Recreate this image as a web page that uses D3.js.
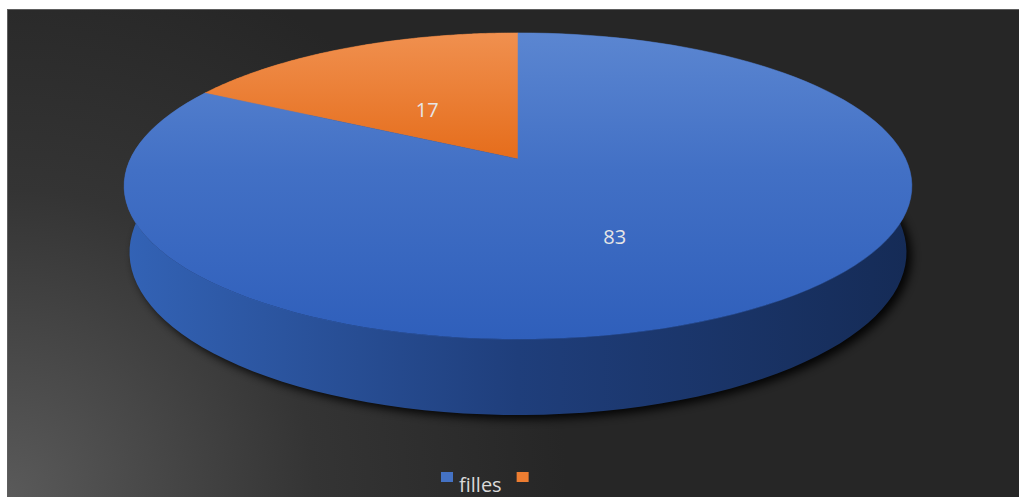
<!DOCTYPE html>
<html><head><meta charset="utf-8">
<script src="https://cdn.jsdelivr.net/npm/d3@7"></script>
<style>html,body{margin:0;padding:0;background:#fff;}svg{display:block;}</style>
</head><body>
<svg id="chart" width="1019" height="497"></svg>
<script>
const categories = ["filles", ""];
const values = [83, 17];
const labelTexts = ["83", "17"];
const sliceColors = ["#4472C4", "#ED7D31"];

const W = 1019, H = 497;
const svg = d3.select("#chart");
const defs = svg.append("defs");

// background
const bg = defs.append("radialGradient").attr("id", "bg").attr("gradientUnits", "userSpaceOnUse")
  .attr("cx", 7).attr("cy", 497).attr("r", 560);
bg.append("stop").attr("offset", 0).attr("stop-color", "#5a5a5a");
bg.append("stop").attr("offset", 0.55).attr("stop-color", "#343434");
bg.append("stop").attr("offset", 1).attr("stop-color", "#262626");
svg.append("rect").attr("x", 7.5).attr("y", 9.5).attr("width", W - 7).attr("height", H - 9)
  .attr("fill", "url(#bg)").attr("stroke", "#5e5e5e").attr("stroke-width", 1);

// 3D projection
const cx = 518, cy = 159, f = 2030, D = 5.236, th = 22.5 * Math.PI / 180, depth = 0.184;
const cT = Math.cos(th), sT = Math.sin(th);
function proj(x, y, z) {
  const yc = z * sT + y * cT;
  const zc = z * cT - y * sT + D;
  return [cx + f * x / zc, cy - f * yc / zc];
}
function rim(a, y, r = 1) { return proj(r * Math.sin(a), y, r * Math.cos(a)); }

const pie = d3.pie().sort(null).value(d => d).startAngle(0).endAngle(2 * Math.PI);
const arcs = pie(values);
const line = d3.line().curve(d3.curveLinear);
const angleSteps = (a0, a1) => d3.range(0, 121).map(i => a0 + (a1 - a0) * i / 120);

// shadow
const blur = defs.append("filter").attr("id", "blur").attr("x", "-10%").attr("y", "-10%").attr("width", "120%").attr("height", "130%");
blur.append("feGaussianBlur").attr("stdDeviation", 5);
const full = angleSteps(0, 2 * Math.PI);
const shadowPts = full.map(a => rim(a, -depth)).map(p => [p[0] + 5, p[1] + 4]);
svg.append("path").attr("d", line(shadowPts) + "Z").attr("fill", "#000").attr("opacity", 0.9).attr("filter", "url(#blur)");

// side gradients
const sideGradStops = [
  [["#3363b6", "#1f3e7b", "#152b56"]],
  [["#c9631f", "#a8521a", "#8a4314"]]
];
arcs.forEach((d, i) => {
  const g = defs.append("linearGradient").attr("id", "side" + i).attr("gradientUnits", "userSpaceOnUse")
    .attr("x1", 124).attr("y1", 0).attr("x2", 913).attr("y2", 0);
  sideGradStops[i][0].forEach((c, k) => g.append("stop").attr("offset", k / 2).attr("stop-color", c));
  const tg = defs.append("linearGradient").attr("id", "top" + i).attr("gradientUnits", "userSpaceOnUse")
    .attr("x1", 0).attr("y1", 33).attr("x2", 0).attr("y2", 339);
  if (i === 0) {
    tg.append("stop").attr("offset", 0).attr("stop-color", "#5b86d1");
    tg.append("stop").attr("offset", 0.45).attr("stop-color", "#4270c5");
    tg.append("stop").attr("offset", 1).attr("stop-color", "#2f5fbb");
  } else {
    tg.append("stop").attr("offset", 0).attr("stop-color", "#f0904f");
    tg.append("stop").attr("offset", 0.42).attr("stop-color", "#e56c1a");
    tg.append("stop").attr("offset", 1).attr("stop-color", "#d86010");
  }
});

// sides (back slice first)
const order = [1, 0];
order.forEach(i => {
  const d = arcs[i];
  const steps = angleSteps(d.startAngle, d.endAngle);
  const topPts = steps.map(a => rim(a, 0));
  const botPts = steps.slice().reverse().map(a => rim(a, -depth));
  svg.append("path").attr("d", line(topPts.concat(botPts)) + "Z").attr("fill", `url(#side${i})`);
});

// top faces
order.forEach(i => {
  const d = arcs[i];
  const steps = angleSteps(d.startAngle, d.endAngle);
  const pts = [proj(0, 0, 0)].concat(steps.map(a => rim(a, 0)));
  svg.append("path").attr("d", line(pts) + "Z").attr("fill", `url(#top${i})`)
    .attr("stroke", `url(#top${i})`).attr("stroke-width", 0.5);
});

// labels
const labelOffset = [[-10, 9], [1, 10]];
arcs.forEach((d, i) => {
  const mid = (d.startAngle + d.endAngle) / 2;
  const p = rim(mid, 0, 0.5);
  svg.append("text").attr("x", p[0] + labelOffset[i][0]).attr("y", p[1] + labelOffset[i][1] + 7)
    .attr("text-anchor", "middle").attr("font-family", "'Open Sans', sans-serif").attr("font-size", 20)
    .attr("fill", "#e6e6e6").text(labelTexts[i]);
});

// legend
const legend = svg.append("g").attr("transform", "translate(441,472)");
let lx = 0;
categories.forEach((c, i) => {
  legend.append("rect").attr("x", lx).attr("y", 0).attr("width", 12).attr("height", 10).attr("fill", sliceColors[i]);
  const t = legend.append("text").attr("x", lx + 18).attr("y", 20).attr("font-family", "'Open Sans', sans-serif")
    .attr("font-size", 20).attr("fill", "#d9d9d9").text(c);
  const w = c ? t.node().getComputedTextLength() : 0;
  lx += 18 + w + 15;
});
</script>
</body></html>
